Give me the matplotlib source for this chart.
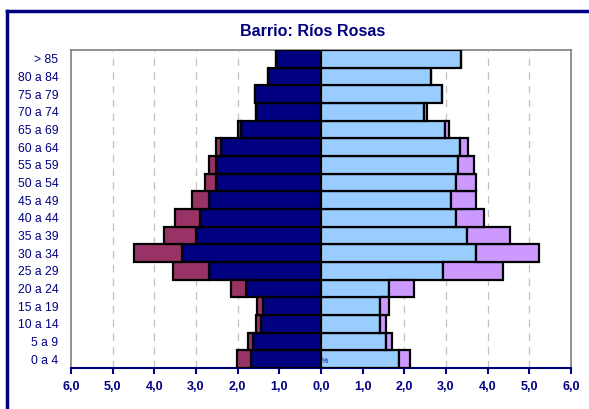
import matplotlib.pyplot as plt
import numpy as np
from matplotlib.lines import Line2D

# datos (%) por grupo de edad
edades = ['0 a 4', '5 a 9', '10 a 14', '15 a 19', '20 a 24', '25 a 29', '30 a 34',
          '35 a 39', '40 a 44', '45 a 49', '50 a 54', '55 a 59', '60 a 64',
          '65 a 69', '70 a 74', '75 a 79', '80 a 84', '> 85']
hombres_esp = [1.69, 1.64, 1.43, 1.40, 1.79, 2.70, 3.33, 3.00, 2.90, 2.70, 2.51, 2.53, 2.39,
               1.93, 1.55, 1.59, 1.27, 1.09]
hombres_ext = [0.33, 0.12, 0.13, 0.13, 0.37, 0.86, 1.15, 0.76, 0.61, 0.40, 0.28, 0.17, 0.14,
               0.06, 0.00, 0.00, 0.00, 0.00]
mujeres_esp = [1.86, 1.57, 1.41, 1.41, 1.64, 2.92, 3.73, 3.50, 3.24, 3.11, 3.23, 3.29, 3.34,
               2.98, 2.48, 2.91, 2.64, 3.36]
mujeres_ext = [0.28, 0.13, 0.16, 0.23, 0.59, 1.44, 1.51, 1.04, 0.68, 0.62, 0.50, 0.39, 0.19,
               0.10, 0.06, 0.00, 0.00, 0.00]
ticks = [-6, -5, -4, -3, -2, -1, 0, 1, 2, 3, 4, 5, 6]

navy = '#000080'
plt.rcParams['font.family'] = ['Liberation Sans', 'DejaVu Sans']

fig = plt.figure(figsize=(5.89, 4.09), dpi=100)
ax = fig.add_axes([71/589, 1-368/409, 500/589, 318/409])

y = np.arange(len(edades))
he = np.array(hombres_esp)
hx = np.array(hombres_ext)
me = np.array(mujeres_esp)
mx = np.array(mujeres_ext)
kw = dict(height=1.0, edgecolor='black', linewidth=1.6, zorder=3)
ax.barh(y, -he, color=navy, **kw)
ax.barh(y, -hx, left=-he, color='#993366', **kw)
ax.barh(y, me, color='#99CCFF', **kw)
ax.barh(y, mx, left=me, color='#CC99FF', **kw)

ax.set_xlim(-6, 6)
ax.set_ylim(-0.5, len(edades) - 0.5)
ax.set_xticks(ticks)
ax.set_xticklabels([('%.1f' % abs(t)).replace('.', ',') for t in ticks],
                   color=navy, fontsize=9, fontweight='bold')
ax.set_yticks(y)
ax.set_yticklabels(edades, color=navy, fontsize=8.7)
ax.tick_params(axis='y', length=0, pad=9)
ax.tick_params(axis='x', length=4, width=1.5, color=navy, direction='out', pad=5)
for t in ticks:
    if t not in (-6, 0, 6):
        ax.axvline(t, color='#c0c0c0', linestyle=(0, (6, 5)), linewidth=0.9, zorder=1)
for s in ['left', 'top', 'right']:
    ax.spines[s].set_color('#808080')
    ax.spines[s].set_linewidth(1.2)
ax.spines['bottom'].set_color(navy)
ax.spines['bottom'].set_linewidth(1.5)
ax.text(0.02, -0.2, '%', color=navy, fontsize=5, zorder=4)

fig.text(313/589, 1-31/409, 'Barrio: Ríos Rosas', ha='center', va='center',
         color=navy, fontsize=11.6, fontweight='bold')
# marco
fig.add_artist(Line2D([7/589, 1], [1-11/409, 1-11/409], color=navy, lw=2.5,
                      transform=fig.transFigure))
fig.add_artist(Line2D([7/589, 7/589], [0, 1-11/409], color=navy, lw=2.5,
                      transform=fig.transFigure))

fig.savefig('out.png', dpi=100)
